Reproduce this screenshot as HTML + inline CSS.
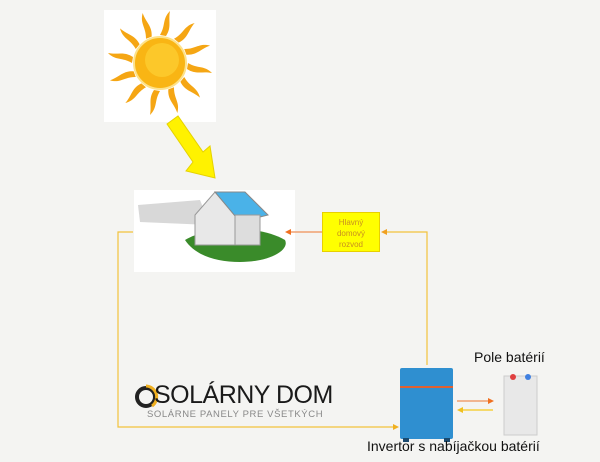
<!DOCTYPE html>
<html><head><meta charset="utf-8"><style>
body{margin:0;width:600px;height:462px;overflow:hidden;background:#f4f4f2;font-family:"Liberation Sans",sans-serif;position:relative}
.a{position:absolute}
</style></head><body>
<div class="a" style="left:104px;top:10px;width:112px;height:112px;background:#fff"></div>
<div class="a" style="left:134px;top:190px;width:161px;height:82px;background:#fff"></div>
<svg class="a" style="left:0;top:0" width="600" height="462">
<!-- sun -->
<g transform="translate(160,63)" fill="#f5a614">
<g id="r"><path d="M0,-28 C6,-38 2,-44 10,-52 C8,-42 12,-36 6,-27 Z"/></g>
<use href="#r" transform="rotate(30)"/><use href="#r" transform="rotate(60)"/><use href="#r" transform="rotate(90)"/>
<use href="#r" transform="rotate(120)"/><use href="#r" transform="rotate(150)"/><use href="#r" transform="rotate(180)"/>
<use href="#r" transform="rotate(210)"/><use href="#r" transform="rotate(240)"/><use href="#r" transform="rotate(270)"/>
<use href="#r" transform="rotate(300)"/><use href="#r" transform="rotate(330)"/>
</g>
<circle cx="160" cy="63" r="26" fill="#f9b514" stroke="#fde28a" stroke-width="2"/>
<circle cx="162" cy="60" r="17" fill="#fcc82a"/>
<!-- big arrow -->
<polygon points="167,124 178,116 203,152 210,146 215,178 186,171 193,162" fill="#fff200" stroke="#e6d200" stroke-width="1"/>
<!-- house -->
<polygon points="138,205 200,200 210,225 140,222" fill="#d8d8d8"/>
<path d="M185,240 C210,225 260,225 285,240 C290,250 270,262 240,262 C215,262 195,255 185,240Z" fill="#3a8b2a"/>
<polygon points="195,215 215,192 235,215 235,245 195,245" fill="#e8e8e8" stroke="#999"/>
<polygon points="215,192 245,192 268,215 240,222" fill="#4ab2e8" stroke="#888"/>
<rect x="235" y="215" width="25" height="30" fill="#ddd" stroke="#999"/>
<!-- lines -->
<g fill="none" stroke="#f2c23c" stroke-width="1.2">
<polyline points="133,232 118,232 118,427 394,427"/>
<polyline points="427,365 427,232 385,232"/>
</g>
<line x1="322" y1="232" x2="290" y2="232" stroke="#f0a070" stroke-width="1.5"/>
<polygon points="285,232 291,229 291,235" fill="#f07020"/>
<polygon points="381,232 387,229 387,235" fill="#f0a020"/>
<polygon points="399,427 393,424 393,430" fill="#f0b020"/>
<line x1="457" y1="401" x2="489" y2="401" stroke="#f0a070" stroke-width="1.5"/>
<polygon points="494,401 488,398 488,404" fill="#f07020"/>
<line x1="462" y1="410" x2="493" y2="410" stroke="#f5d040" stroke-width="1.5"/>
<polygon points="457,410 463,407 463,413" fill="#f0c020"/>
<!-- inverter -->
<rect x="400" y="368" width="53" height="71" rx="2" fill="#2f8fd0"/>
<rect x="400" y="386" width="53" height="2" fill="#e06030"/>
<rect x="403" y="438" width="6" height="4" fill="#1a4a70"/><rect x="444" y="438" width="6" height="4" fill="#1a4a70"/>
<!-- battery -->
<rect x="504" y="376" width="33" height="59" fill="#e8e8e8" stroke="#ccc"/>
<circle cx="513" cy="377" r="3" fill="#e04040"/><circle cx="528" cy="377" r="3" fill="#4080e0"/>
<!-- logo -->
<circle cx="146" cy="397" r="9" fill="none" stroke="#222" stroke-width="4"/>
<path d="M146,386 A11,11 0 0 1 152,406" fill="none" stroke="#f0b020" stroke-width="3"/>
</svg>
<div class="a" style="left:322px;top:212px;width:58px;height:40px;background:#ffff00;border:1px solid #e8d000;box-sizing:border-box;color:#c89020;font-size:8px;line-height:11px;text-align:center;padding-top:4px">Hlavný<br>domový<br>rozvod</div>
<div class="a" style="left:154px;top:381px;font-size:25px;color:#1a1a1a;letter-spacing:-0.5px">SOLÁRNY DOM</div>
<div class="a" style="left:147px;top:409px;font-size:9.5px;color:#888;letter-spacing:0.6px">SOLÁRNE PANELY PRE VŠETKÝCH</div>
<div class="a" style="left:474px;top:349px;font-size:14px;color:#111">Pole batérií</div>
<div class="a" style="left:367px;top:438px;font-size:14px;color:#111">Invertor s nabíjačkou batérií</div>
</body></html>
